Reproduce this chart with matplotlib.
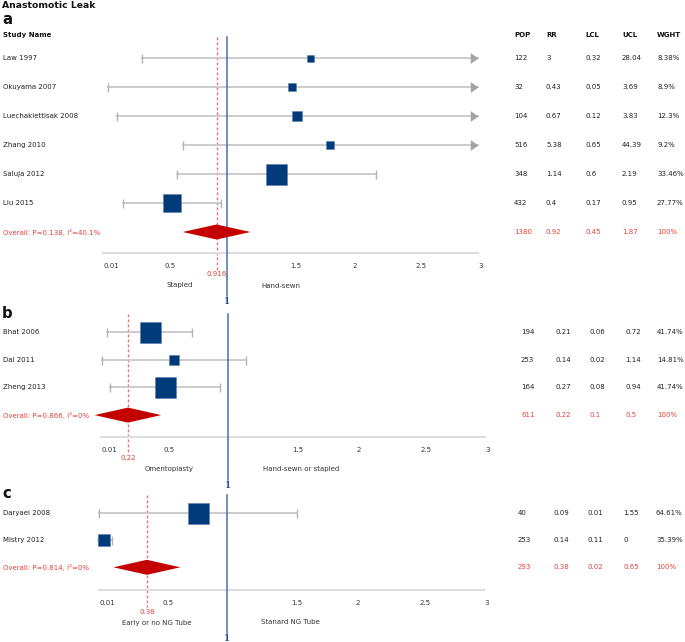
import matplotlib
matplotlib.use("Agg")
import matplotlib.pyplot as plt
from matplotlib import transforms

plt.rcParams['font.family'] = ['DejaVu Sans']

# ---------------- data ----------------
title = "Anastomotic Leak"
col_headers = ["POP", "RR", "LCL", "UCL", "WGHT"]
tick_values = [0.01, 0.5, 1.5, 2, 2.5, 3]
tick_labels = ["0.01", "0.5", "1.5", "2", "2.5", "3"]
ref_value = 1
x_min, x_max = 0.01, 3

# panel a
studies_a = ["Law 1997", "Okuyama 2007", "Luechakiettisak 2008", "Zhang 2010", "Saluja 2012", "Liu 2015"]
pop_a = [122, 32, 104, 516, 348, 432]
rr_a = [3, 0.43, 0.67, 5.38, 1.14, 0.4]
lcl_a = [0.32, 0.05, 0.12, 0.65, 0.6, 0.17]
ucl_a = [28.04, 3.69, 3.83, 44.39, 2.19, 0.95]
wght_a = ["8.38%", "8.9%", "12.3%", "9.2%", "33.46%", "27.77%"]
box_a = [1.66, 1.52, 1.56, 1.82, 1.39, 0.56]          # box centres as drawn
overall_label_a = "Overall: P=0.138, I²=40.1%"
overall_a = [1380, 0.92, 0.45, 1.87, "100%"]
pooled_a = 0.916
diamond_a = [0.645, 1.186]
sides_a = ["Stapled", "Hand-sewn"]

# panel b
studies_b = ["Bhat 2006", "Dai 2011", "Zheng 2013"]
pop_b = [194, 253, 164]
rr_b = [0.21, 0.14, 0.27]
lcl_b = [0.06, 0.02, 0.08]
ucl_b = [0.72, 1.14, 0.94]
wght_b = ["41.74%", "14.81%", "41.74%"]
box_b = [0.39, 0.58, 0.51]
overall_label_b = "Overall: P=0.866, I²=0%"
overall_b = [611, 0.22, 0.1, 0.5, "100%"]
pooled_b = 0.22
diamond_b = [-0.04, 0.48]
sides_b = ["Omentoplasty", "Hand-sewn or stapled"]

# panel c
studies_c = ["Daryaei 2008", "Mistry 2012"]
pop_c = [40, 253]
rr_c = [0.09, 0.14]
lcl_c = [0.01, 0.11]
ucl_c = [1.55, 0]
wght_c = ["64.61%", "35.39%"]
box_c = [0.78, 0.05]
overall_label_c = "Overall: P=0.814, I²=0%"
overall_c = [293, 0.38, 0.02, 0.65, "100%"]
pooled_c = 0.38
diamond_c = [0.12, 0.64]
sides_c = ["Early or no NG Tube", "Stanard NG Tube"]

# ---------------- styles / layout (pixels) ----------------
W, H = 685, 642
NAVY = '#013b7a'
DIAMOND = '#c40000'
RED_TXT = '#e5413a'
RED_LINE = '#ee7070'
BLUE = '#4a6fa8'
WHISK = '#c8c8c8'
CAP = '#b4b4b4'
ARROW = '#a4a4a4'
TXT = '#222222'
FS = 5.0

layout_a = dict(x0=103, x1=478, row0=58, pitch=29, top=37, axis=253,
                cols=[514, 546, 585, 622, 657], letter_y=19.5, box_px=[7, 7.5, 9.7, 7.7, 21, 18])
layout_b = dict(x0=101, x1=485, row0=331.7, pitch=27.8, top=314, axis=437,
                cols=[521, 555, 590, 625, 657], letter_y=313, box_px=[21, 9.7, 21])
layout_c = dict(x0=99.3, x1=484, row0=512.7, pitch=27.3, top=495, axis=590,
                cols=[518, 553, 588, 623, 656], letter_y=494, box_px=[21, 12])

PX2PT = 72 / 100.0
arrow_marker = [(0, 0), (-1, 0.7), (-1, -0.7), (0, 0)]
SIDE_GAP = 0.27


def fmt(v):
    return v if isinstance(v, str) else '%g' % v


fig = plt.figure(figsize=(W / 100, H / 100), dpi=100)
fig.text(2 / W, 1 - 5.5 / H, title, fontsize=6.7, fontweight='bold', va='center', ha='left', color='#111')


def draw_panel(L, letter, names, pop, rr, lcl, ucl, wght, box, ov_label, ov, pooled, diamond, sides,
               header=False):
    rect = [L['x0'] / W, 1 - L['axis'] / H, (L['x1'] - L['x0']) / W, (L['axis'] - L['top']) / H]
    ax = fig.add_axes(rect)
    yd = lambda p: (p - L['row0']) / L['pitch']
    ax.set_xlim(x_min, x_max)
    ax.set_ylim(yd(L['axis']), yd(L['top']))
    ax.patch.set_visible(False)
    for s in ['top', 'left', 'right']:
        ax.spines[s].set_visible(False)
    ax.spines['bottom'].set_color('#dedede')
    ax.spines['bottom'].set_linewidth(1.5)
    ax.set_yticks([])
    ax.set_xticks(tick_values, tick_labels)
    ax.tick_params(axis='x', length=0, pad=13 * PX2PT, labelsize=FS, labelcolor='#333')
    for lab in ax.get_xticklabels():
        lab.set_ha('left')
        lab.set_va('center')

    axis_y = L['axis']
    # reference and pooled lines
    ax.plot([ref_value, ref_value], [yd(L['top']), yd(axis_y + 43)], color=BLUE, lw=1.1,
            clip_on=False, zorder=3)
    ax.plot([pooled, pooled], [yd(L['top']), yd(axis_y + 17)], color=RED_LINE, lw=1.0,
            ls=(0, (2, 1.6)), clip_on=False, zorder=1)

    for i in range(len(names)):
        hi = min(ucl[i], x_max)
        ax.plot([lcl[i], hi], [i, i], color=WHISK, lw=1.3, clip_on=False, zorder=2)
        ax.plot([lcl[i]], [i], marker='|', ms=9 * PX2PT, mew=1.0, color=CAP, clip_on=False, zorder=2)
        if ucl[i] > x_max:
            ax.plot([x_max], [i], marker=arrow_marker, ms=15.5 * PX2PT, color=ARROW, mec=ARROW,
                    mew=0, clip_on=False, zorder=2)
        else:
            ax.plot([hi], [i], marker='|', ms=9 * PX2PT, mew=1.0, color=CAP, clip_on=False, zorder=2)
        ax.plot([box[i]], [i], marker='s', ms=L['box_px'][i] * PX2PT, mfc=NAVY, mec='#5f7fab',
                mew=0.4, clip_on=False, zorder=5)

    n = len(names)
    h = 7.5 / L['pitch']
    ax.fill([diamond[0], pooled, diamond[1], pooled], [n, n - h, n, n + h], color=DIAMOND,
            lw=0, clip_on=False, zorder=4)

    # labels below the axis
    ax.text(pooled, yd(axis_y + 21.5), fmt(pooled), color=RED_TXT, fontsize=FS, ha='center', va='center')
    ax.text(ref_value - SIDE_GAP, yd(axis_y + 32.5), sides[0], color='#333', fontsize=FS,
            ha='right', va='center')
    ax.text(ref_value + SIDE_GAP, yd(axis_y + 32.5), sides[1], color='#333', fontsize=FS,
            ha='left', va='center')
    ax.text(ref_value, yd(axis_y + 48.5), '1', color='#274f8c', fontsize=6.2, fontweight='bold',
            family=['DejaVu Serif'], ha='center', va='center')

    # left and right text columns
    tr = transforms.blended_transform_factory(fig.transFigure, ax.transData)
    for i, name in enumerate(names):
        ax.text(3 / W, i, name, transform=tr, fontsize=FS, color=TXT, ha='left', va='center')
        for x, v in zip(L['cols'], [pop[i], rr[i], lcl[i], ucl[i], wght[i]]):
            ax.text(x / W, i, fmt(v), transform=tr, fontsize=FS, color=TXT, ha='left', va='center')
    ax.text(3 / W, n, ov_label, transform=tr, fontsize=FS, color=RED_TXT, ha='left', va='center')
    for x, v in zip(L['cols'], ov):
        ax.text(x / W, n, fmt(v), transform=tr, fontsize=FS, color=RED_TXT, ha='left', va='center')

    if header:
        hy = yd(35)
        ax.text(3 / W, hy, "Study Name", transform=tr, fontsize=FS, fontweight='bold', color='#111',
                ha='left', va='center')
        for x, t in zip(L['cols'], col_headers):
            ax.text(x / W, hy, t, transform=tr, fontsize=FS, fontweight='bold', color='#111',
                    ha='left', va='center')

    fig.text(2 / W, 1 - L['letter_y'] / H, letter, fontsize=10.7, fontweight='bold', color='#111',
             ha='left', va='center')
    return ax


draw_panel(layout_a, 'a', studies_a, pop_a, rr_a, lcl_a, ucl_a, wght_a, box_a, overall_label_a,
           overall_a, pooled_a, diamond_a, sides_a, header=True)
draw_panel(layout_b, 'b', studies_b, pop_b, rr_b, lcl_b, ucl_b, wght_b, box_b, overall_label_b,
           overall_b, pooled_b, diamond_b, sides_b)
draw_panel(layout_c, 'c', studies_c, pop_c, rr_c, lcl_c, ucl_c, wght_c, box_c, overall_label_c,
           overall_c, pooled_c, diamond_c, sides_c)

fig.savefig('out.png', dpi=100)
